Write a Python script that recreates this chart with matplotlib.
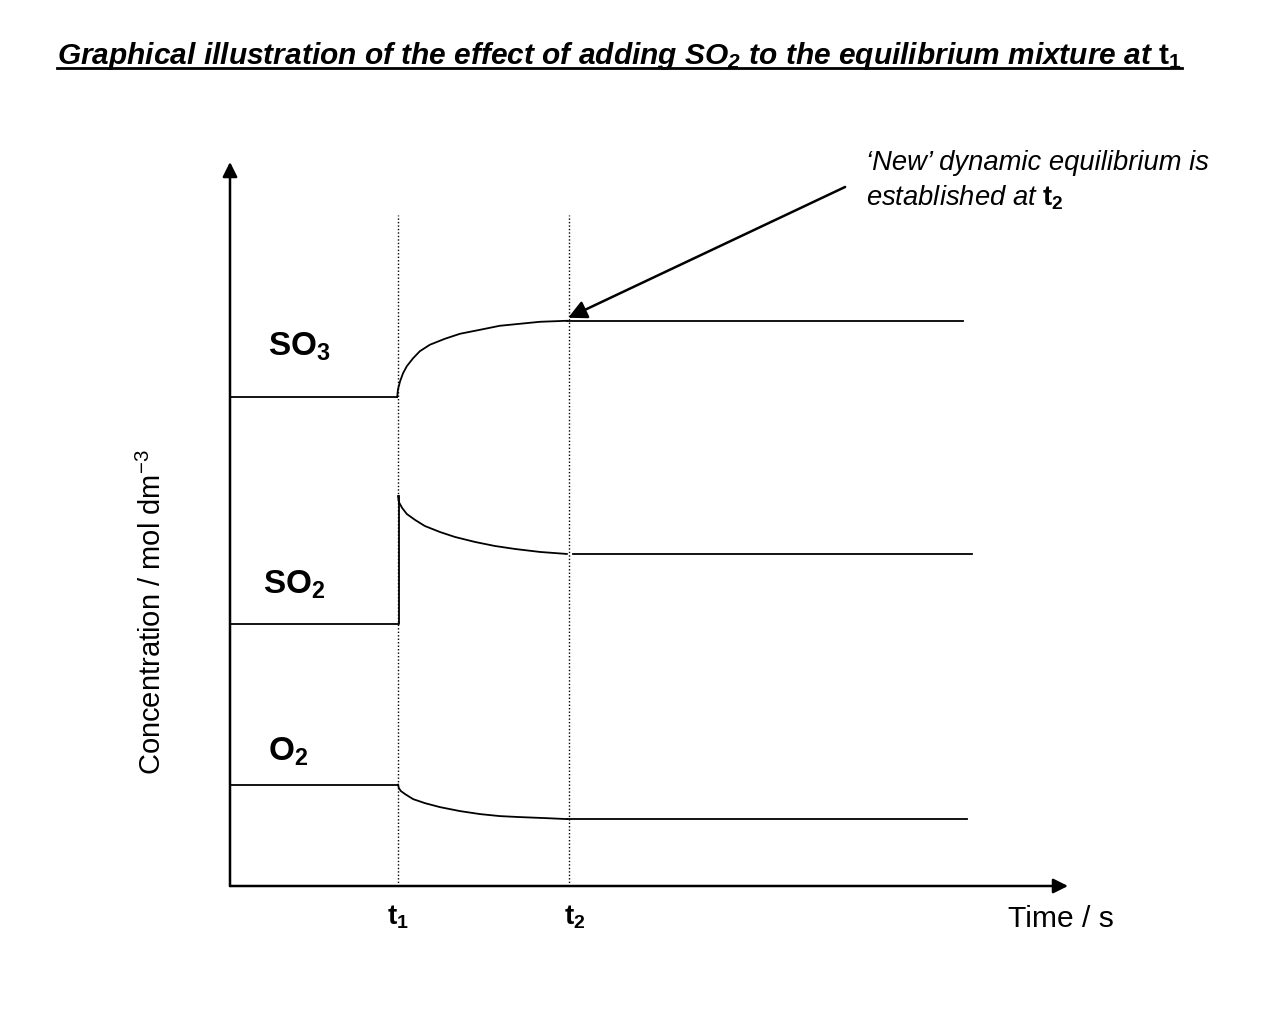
import matplotlib
matplotlib.use("Agg")
import matplotlib.pyplot as plt
from matplotlib.lines import Line2D

plt.rcParams['font.family'] = ['Liberation Sans', 'DejaVu Sans']
plt.rcParams['mathtext.fontset'] = 'custom'
plt.rcParams['mathtext.rm'] = 'Liberation Sans'
plt.rcParams['mathtext.it'] = 'Liberation Sans:italic'
plt.rcParams['mathtext.bf'] = 'Liberation Sans:bold'
plt.rcParams['mathtext.bfit'] = 'Liberation Sans:bold:italic'

# times (s, arbitrary units)
t1 = 4.0
t2 = 8.1
t_end_so3 = 17.5
t_end_so2 = 17.7
t_end_o2 = 17.6

# SO3: flat, then rises after t1 to new equilibrium
so3_before = 9.79
so3_curve_t = [3.99, 4.01, 4.06, 4.13, 4.22, 4.37, 4.53, 4.77, 5.13, 5.49, 5.97, 6.44, 6.92, 7.40, 8.04]
so3_curve_c = [9.79, 9.95, 10.11, 10.27, 10.41, 10.57, 10.71, 10.84, 10.96, 11.06, 11.14, 11.22, 11.26, 11.30, 11.32]
so3_after = 11.32

# SO2: flat, jumps up at t1 (SO2 added), then falls
so2_before = 5.25
so2_spike_t = 4.03
so2_curve_t = [4.01, 4.03, 4.11, 4.22, 4.42, 4.65, 5.01, 5.37, 5.85, 6.32, 6.80, 7.40, 8.04]
so2_curve_c = [7.81, 7.69, 7.57, 7.45, 7.33, 7.21, 7.09, 6.99, 6.89, 6.81, 6.75, 6.69, 6.65]
so2_after_start = 8.19
so2_after = 6.65

# O2: flat, then falls after t1
o2_before = 2.03
o2_curve_t = [4.01, 4.03, 4.08, 4.18, 4.37, 4.65, 5.01, 5.49, 5.97, 6.44, 6.92, 7.52, 8.04]
o2_curve_c = [2.03, 1.96, 1.90, 1.84, 1.74, 1.66, 1.58, 1.50, 1.44, 1.40, 1.38, 1.36, 1.34]
o2_after = 1.34

x_max = 20.0
y_max = 14.5
guide_top = 13.43

fig = plt.figure(figsize=(12.69, 10.20), dpi=100)
ax = fig.add_axes([230 / 1269, 133 / 1020, 838 / 1269, 724 / 1020])
ax.set_xlim(0, x_max)
ax.set_ylim(0, y_max)
ax.axis('off')

lw = 1.3
# SO3
ax.plot([0, so3_curve_t[0]], [so3_before, so3_before], color='black', lw=lw)
ax.plot(so3_curve_t, so3_curve_c, color='black', lw=lw)
ax.plot([so3_curve_t[-1], t_end_so3], [so3_after, so3_after], color='black', lw=lw)
# SO2
ax.plot([0, so2_spike_t, so2_spike_t], [so2_before, so2_before, so2_curve_c[0]], color='black', lw=lw)
ax.plot(so2_curve_t, so2_curve_c, color='black', lw=lw)
ax.plot([so2_after_start, t_end_so2], [so2_after, so2_after], color='black', lw=lw)
# O2
ax.plot([0, o2_curve_t[0]], [o2_before, o2_before], color='black', lw=lw)
ax.plot(o2_curve_t, o2_curve_c, color='black', lw=lw)
ax.plot([o2_curve_t[-1], t_end_o2], [o2_after, o2_after], color='black', lw=lw)

# dotted guides at t1 and t2
for t in (t1, t2):
    ax.plot([t, t], [0, guide_top], color='black', lw=1, linestyle=(0, (1, 1.5)))

# axes with arrows
arrow = dict(arrowstyle='-|>', color='black', lw=1.8, mutation_scale=22, shrinkA=0, shrinkB=0)
ax.annotate('', xy=(x_max, 0), xytext=(0, 0), arrowprops=arrow, annotation_clip=False)
ax.annotate('', xy=(0, y_max), xytext=(0, 0), arrowprops=arrow, annotation_clip=False)

# species labels
ax.text(0.91, 10.82, r'$\mathbf{SO_3}$', fontsize=24, va='center', ha='left')
ax.text(0.79, 6.05, r'$\mathbf{SO_2}$', fontsize=24, va='center', ha='left')
ax.text(0.91, 2.70, r'$\mathbf{O_2}$', fontsize=24, va='center', ha='left')

# time labels
ax.text(t1, -0.6, r'$\mathbf{t_1}$', fontsize=20, ha='center', va='center')
ax.text(8.23, -0.6, r'$\mathbf{t_2}$', fontsize=20, ha='center', va='center')
ax.text(18.57, -0.64, 'Time / s', fontsize=21.6, ha='left', va='center')
ax.text(-1.86, 5.5, r'Concentration / mol dm$^{-3}$', fontsize=21, rotation=90,
        ha='center', va='center')

# annotation arrow to new equilibrium
ax.annotate('', xy=(8.07, 11.38), xytext=(14.68, 14.0),
            arrowprops=dict(arrowstyle='-|>', color='black', lw=1.8, mutation_scale=28,
                            shrinkA=0, shrinkB=0),
            annotation_clip=False)
ax.text(15.18, 14.5, '\u2018New\u2019 dynamic equilibrium is', fontsize=19.7, style='italic',
        ha='left', va='center')
ax.text(15.18, 13.8, r'established at $\mathbf{t_2}$', fontsize=19.7, style='italic',
        ha='left', va='center')

# underlined title
title = fig.text(57 / 1269, 0.945,
                 r'Graphical illustration of the effect of adding SO$_{\mathbfit{2}}$ '
                 r'to the equilibrium mixture at $\mathbf{t}_{\mathbf{1}}$',
                 fontsize=21.5, fontweight='bold', style='italic', ha='left', va='center')
fig.canvas.draw()
bb = title.get_window_extent().transformed(fig.transFigure.inverted())
fig.add_artist(Line2D([bb.x0, bb.x1], [bb.y0 + 0.003, bb.y0 + 0.003],
                      transform=fig.transFigure, color='black', lw=2))

fig.savefig('out.png', dpi=100)
